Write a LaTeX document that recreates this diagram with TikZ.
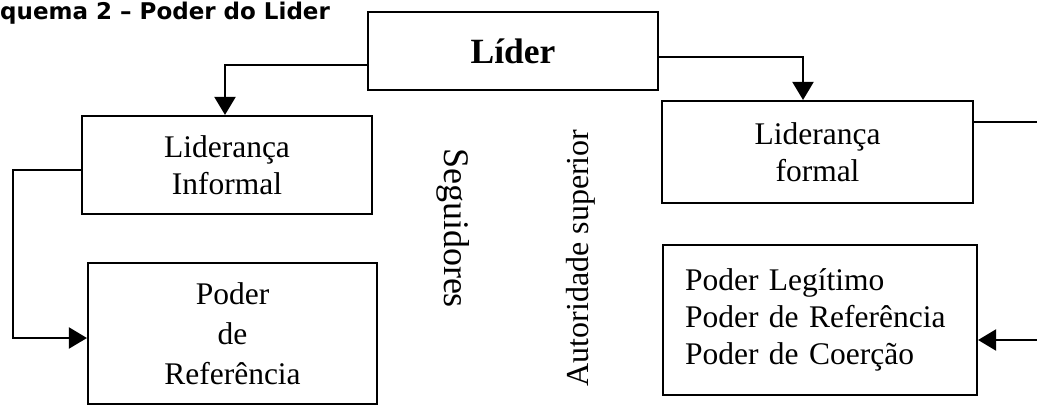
\documentclass[tikz,border=0pt]{standalone}
\usepackage{fontspec}
\setmainfont{Liberation Serif}
\newfontfamily\titlefont{DejaVu Sans}
\usetikzlibrary{arrows.meta}

\tikzset{
  box/.style={draw, line width=2.1pt, inner sep=0pt, align=center,
    font=\fontsize{31.5}{37}\selectfont},
  link/.style={line width=2.1pt},
  arr/.style={link, -{Triangle[length=18pt,width=21pt]}},
  side/.style={font=\fontsize{32}{37}\selectfont, inner sep=0pt}
}

\begin{document}
\begin{tikzpicture}[x=1pt,y=-1pt]
\useasboundingbox (0,0) rectangle (1037,408);
\clip (0,0) rectangle (1037,408);

% heading
\node[anchor=base west, inner sep=0pt, font=\titlefont\bfseries\fontsize{23}{26}\selectfont]
  (title) at (0,19) {quema 2 – Poder do Lider};

% boxes
\node[box, minimum width=290pt, minimum height=78pt,
  font=\bfseries\fontsize{35.5}{40}\selectfont] (lider) at (513,51) {Líder};
\node[box, minimum width=290pt, minimum height=98pt] (inf) at (227,165)
  {Liderança\\Informal};
\node[box, minimum width=289pt, minimum height=141pt,
  font=\fontsize{31.5}{40}\selectfont] (ref) at (232.5,333.5)
  {Poder\\de\\Referência};
\node[box, minimum width=311pt, minimum height=102pt] (form) at (817.5,152)
  {Liderança\\formal};
\node[box, minimum width=314pt, minimum height=150pt, inner xsep=22pt,
  text width=270pt, align=left] (leg) at (820,320)
  {Poder Legítimo\\Poder de Referência\\Poder de Coerção};

% vertical labels
\node[side, rotate=-90, font=\fontsize{36}{40}\selectfont] (seg) at (453,228) {Seguidores};
\node[side, rotate=90] (aut) at (581,258) {Autoridade superior};

% routing points
\coordinate (lk) at (225,65);
\coordinate (rk) at (803,57);
\coordinate (ik) at (13,170);
\coordinate (rb) at (13,338);
\coordinate (fe) at (1037,122);
\coordinate (le) at (1037,340);

% connectors
\draw[arr] (lider.west |- lk) -| (lk |- inf.north);
\draw[arr] (lider.east |- rk) -| (rk |- form.north);
\draw[arr] (inf.west |- ik) -- (ik) -- (rb) -- (ref.west |- rb);
\draw[link] (form.east |- fe) -- (fe);
\draw[arr] (le) -- (leg.east |- le);
\end{tikzpicture}
\end{document}
